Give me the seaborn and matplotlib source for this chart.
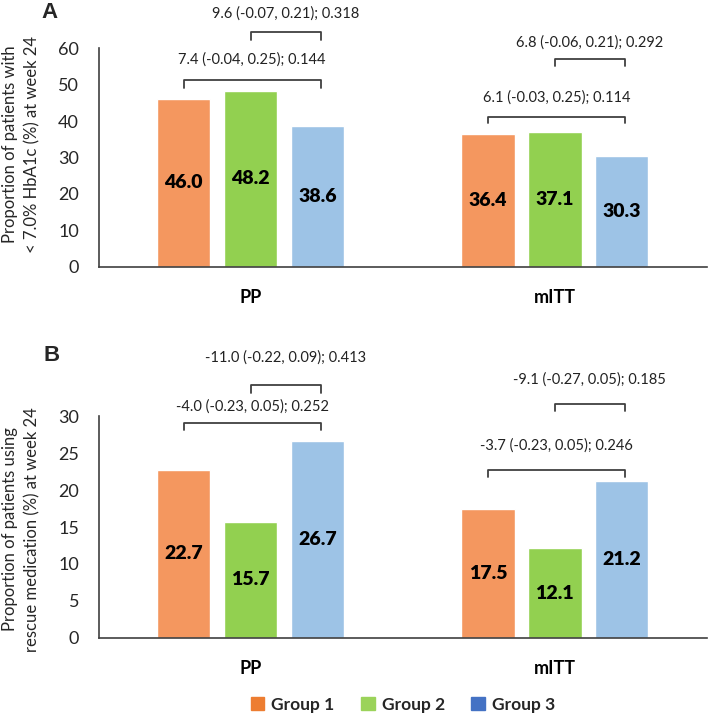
import matplotlib
matplotlib.use("Agg")
import matplotlib.pyplot as plt
import matplotlib.patches as mpatches
import seaborn as sns
import pandas as pd

# ---------------- data ----------------
categories = ["PP", "mITT"]
groups = ["Group 1", "Group 2", "Group 3"]

hba1c_group1 = [46.0, 36.4]
hba1c_group2 = [48.2, 37.1]
hba1c_group3 = [38.6, 30.3]

rescue_group1 = [22.7, 17.5]
rescue_group2 = [15.7, 12.1]
rescue_group3 = [26.7, 21.2]

hba1c_comparisons = [
    "7.4 (-0.04, 0.25); 0.144", "9.6 (-0.07, 0.21); 0.318",
    "6.1 (-0.03, 0.25); 0.114", "6.8 (-0.06, 0.21); 0.292",
]
rescue_comparisons = [
    "-4.0 (-0.23, 0.05); 0.252", "-11.0 (-0.22, 0.09); 0.413",
    "-3.7 (-0.23, 0.05); 0.246", "-9.1 (-0.27, 0.05); 0.185",
]

# ---------------- style ----------------
sns.set_style("white")
plt.rcParams["font.family"] = ["Lato", "DejaVu Sans"]

bar_colors = ["#F4975F", "#92D050", "#9DC3E6"]
legend_colors = ["#ED7D31", "#9BD35A", "#4472C4"]
line_color = "#404040"


def make_df(g1, g2, g3):
    rows = []
    for grp, vals in zip(groups, [g1, g2, g3]):
        for cat, v in zip(categories, vals):
            rows.append({"analysis": cat, "group": grp, "value": v})
    return pd.DataFrame(rows)


df_a = make_df(hba1c_group1, hba1c_group2, hba1c_group3)
df_b = make_df(rescue_group1, rescue_group2, rescue_group3)

fig = plt.figure(figsize=(7.09, 7.19), dpi=100)
ax_a = fig.add_axes([0.139, 0.629, 0.858, 0.304])
ax_b = fig.add_axes([0.139, 0.113, 0.858, 0.308])

# bracket layout: (category index, from hue, to hue, top, drop, text y)
layout_a = [(0, 0, 2, 51.2, 2.2, 56.9), (0, 1, 2, 64.4, 2.2, 69.6),
            (1, 0, 2, 41.1, 1.6, 46.4), (1, 1, 2, 57.0, 2.0, 61.6)]
layout_b = [(0, 0, 2, 29.05, 0.9, 31.3), (0, 1, 2, 34.3, 1.1, 37.9),
            (1, 0, 2, 22.7, 0.9, 26.1), (1, 1, 2, 31.6, 0.9, 35.0)]


def draw_panel(ax, df, ymax, ystep, ylabel, label_y, comps, layout):
    sns.barplot(data=df, x="analysis", y="value", hue="group",
                order=categories, hue_order=groups, palette=bar_colors,
                width=0.66, gap=0.2, saturation=1, legend=False,
                errorbar=None, ax=ax)
    for cont in ax.containers:
        ax.bar_label(cont, fmt="%.1f", label_type="center",
                     fontsize=14, fontweight="heavy", color="black")
    ax.set_ylim(0, ymax)
    ax.set_yticks(range(0, ymax + 1, ystep))
    ax.set_xlim(-0.5, 1.5)
    ax.set_xticks(range(len(categories)), labels=[""] * len(categories))
    # bold category labels below the axis
    for i, cat in enumerate(categories):
        ax.annotate(cat, xy=(i, 0), xycoords=("data", "axes fraction"),
                    xytext=(0, -26), textcoords="offset points",
                    ha="center", va="baseline", fontsize=13,
                    fontweight="bold", color="black", annotation_clip=False)
    ax.set_xlabel("")
    ax.set_ylabel(ylabel, fontsize=12, linespacing=1.45)
    ax.yaxis.label.set_va("center")
    ax.yaxis.set_label_coords(-0.127, label_y)
    for s in ["top", "right"]:
        ax.spines[s].set_visible(False)
    for s in ["left", "bottom"]:
        ax.spines[s].set_color(line_color)
        ax.spines[s].set_linewidth(1.2)
    ax.tick_params(axis="y", direction="out", length=5, width=1.0,
                   color=line_color, labelsize=13, pad=9)
    ax.tick_params(axis="x", which="major", length=0)
    ax.set_xticks([0.5, 1.5], minor=True)
    ax.tick_params(axis="x", which="minor", direction="in", length=5,
                   width=1.0, color=line_color)

    # bar centres from drawn patches: centres[hue][cat]
    centres = [[p.get_x() + p.get_width() / 2 for p in cont]
               for cont in ax.containers]
    for text, (ci, h0, h1, top, drop, ty) in zip(comps, layout):
        x0 = centres[h0][ci]
        x1 = centres[h1][ci] + 0.01
        ax.plot([x0, x0, x1, x1], [top - drop, top, top, top - drop],
                color=line_color, lw=1.3, clip_on=False)
        ax.text((x0 + x1) / 2, ty, text, ha="center", va="center",
                fontsize=10.5, color="#222222", clip_on=False)


draw_panel(ax_a, df_a, 60, 10,
           "Proportion of patients with\n< 7.0% HbA1c (%) at week 24", 0.56,
           hba1c_comparisons, layout_a)
draw_panel(ax_b, df_b, 30, 5,
           "Proportion of patients using\nrescue medication (%) at week 24", 0.49,
           rescue_comparisons, layout_b)

fig.text(0.059, 0.997, "A", fontsize=16, fontweight="bold", va="top",
         family=["Liberation Sans", "DejaVu Sans"])
fig.text(0.062, 0.520, "B", fontsize=16, fontweight="bold", va="top",
         family=["Liberation Sans", "DejaVu Sans"])

handles = [mpatches.Patch(color=c, label=g) for c, g in zip(legend_colors, groups)]
fig.legend(handles=handles, loc="center", bbox_to_anchor=(0.568, 0.02),
           ncol=3, frameon=False, handlelength=0.8,
           handleheight=0.8, handletextpad=0.4, columnspacing=1.5,
           prop={"weight": "bold", "size": 12.5})

fig.savefig("out.png", dpi=100)
